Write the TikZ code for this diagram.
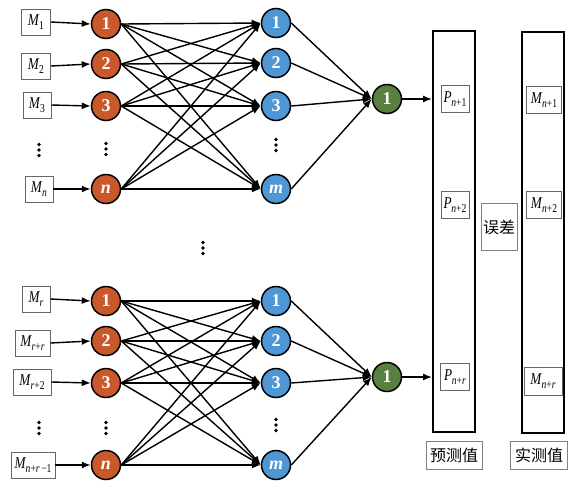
\documentclass[tikz,border=0pt]{standalone}
\usepackage{fontspec}
\usepackage{graphicx}
\setmainfont{Liberation Serif}
\newfontfamily\cjk{Noto Sans CJK SC}
\usetikzlibrary{arrows.meta}
\definecolor{org}{RGB}{201,88,42}
\definecolor{blu}{RGB}{78,150,212}
\definecolor{grn}{RGB}{88,128,62}
\newcommand\vsub[2]{\scalebox{0.8}[1]{\textit{#1}\kern-0.5pt\raisebox{-3.6pt}{\fontsize{12}{12}\selectfont #2}}}
\begin{document}
\begin{tikzpicture}[x=1pt,y=-1pt,
 inbox/.style={draw=black!60,line width=0.9pt,fill=white,minimum height=26pt,inner sep=1pt,font=\fontsize{16.5}{16.5}\selectfont},
 neu/.style={circle,draw=black,line width=1.5pt,minimum size=29pt,inner sep=0pt,text=white,font=\fontsize{18}{18}\selectfont\bfseries},
 orn/.style={neu,fill=org},
 bln/.style={neu,fill=blu},
 gnn/.style={neu,fill=grn},
 arr/.style={-{Latex[length=9pt,width=7pt]},line width=1.4pt},
 bigbox/.style={draw=black,line width=2pt,minimum width=42pt,minimum height=401pt,inner sep=0pt},
 lab/.style={draw=black!50,line width=0.9pt,fill=white,inner sep=2pt,font=\cjk\fontsize{16}{16}\selectfont}]
\useasboundingbox (0,0) rectangle (578,496);
\fill[white] (0,0) rectangle (578,496);
% ---------- top group ----------
\node[inbox,minimum width=29pt] (a1) at (36,22) {\vsub{M}{1}};
\node[inbox,minimum width=29pt] (a2) at (36,66) {\vsub{M}{2}};
\node[inbox,minimum width=28pt] (a3) at (37,105) {\vsub{M}{3}};
\node[inbox,minimum width=28pt] (an) at (39,189) {\vsub{M}{\textit{n}}};
\node[orn] (o1) at (106,24) {1};
\node[orn] (o2) at (106,64) {2};
\node[orn] (o3) at (106,106) {3};
\node[orn] (on) at (106,189) {\itshape n};
\node[bln] (u1) at (276,23) {1};
\node[bln] (u2) at (276,63) {2};
\node[bln] (u3) at (276,106) {3};
\node[bln] (um) at (276,189) {\itshape m};
\node[gnn] (g1) at (387,99) {1};
% ---------- bottom group ----------
\node[inbox,minimum width=28pt] (b1) at (36,299) {\vsub{M}{\textit{r}}};
\node[inbox,minimum width=35pt] (b2) at (32.5,343) {\vsub{M}{\textit{r}+\textit{r}}};
\node[inbox,minimum width=38pt] (b3) at (32,382) {\vsub{M}{\textit{r}+2}};
\node[inbox,minimum width=44pt] (bn) at (33,465) {\vsub{M}{\textit{n}+\textit{r}\,−1}};
\node[orn] (p1) at (106,301) {1};
\node[orn] (p2) at (106,341) {2};
\node[orn] (p3) at (106,383) {3};
\node[orn] (pn) at (106,465) {\itshape n};
\node[bln] (v1) at (276,301) {1};
\node[bln] (v2) at (276,341) {2};
\node[bln] (v3) at (276,383) {3};
\node[bln] (vm) at (276,465) {\itshape m};
\node[gnn] (g2) at (387,377) {1};
% ---------- dots ----------
\foreach \x/\y in {39/150,106/149,276/145,39/428,106/428,276/425,203/248}
  \foreach \d in {-5.5,0,5.5} \fill (\x,\y+\d) circle (1.8);
% ---------- right side ----------
\node[bigbox] (pred) at (454,231.5) {};
\node[bigbox] (meas) at (543,232) {};
\node[inbox,minimum width=28pt,minimum height=27pt] (q1) at (455,99) {\vsub{P}{\textit{n}+1}};
\node[inbox,minimum width=28pt,minimum height=27pt] (q2) at (455,205) {\vsub{P}{\textit{n}+2}};
\node[inbox,minimum width=29pt,minimum height=27pt] (qr) at (455,377) {\vsub{P}{\textit{n}+\textit{r}}};
\node[inbox,minimum width=35pt,minimum height=27pt] (r1) at (544,100) {\vsub{M}{\textit{n}+1}};
\node[inbox,minimum width=35pt,minimum height=27pt] (r2) at (544,205) {\vsub{M}{\textit{n}+2}};
\node[inbox,minimum width=38pt,minimum height=28pt] (rr) at (543,381) {\vsub{M}{\textit{n}+\textit{r}}};
\node[lab,minimum width=36pt,minimum height=47pt] (err) at (499,227) {误差};
\node[lab,minimum width=56pt,minimum height=28pt] (lp) at (454,455) {预测值};
\node[lab,minimum width=57pt,minimum height=28pt] (lm) at (539,455) {实测值};
% ---------- connectors ----------
\foreach \s/\t in {a1/o1,a2/o2,a3/o3,an/on,b1/p1,b2/p2,b3/p3,bn/pn}
  \draw[arr] (\s.east) -- (\t.west);
\foreach \s in {o1,o2,o3,on} \foreach \t in {u1,u2,u3,um} \draw[arr] (\s.east) -- (\t.west);
\foreach \s in {p1,p2,p3,pn} \foreach \t in {v1,v2,v3,vm} \draw[arr] (\s.east) -- (\t.west);
\foreach \s in {u1,u2,u3,um} \draw[arr] (\s.east) -- (g1.west);
\foreach \s in {v1,v2,v3,vm} \draw[arr] (\s.east) -- (g2.west);
\draw[arr] (g1.east) -- (g1.east -| pred.west);
\draw[arr] (g2.east) -- (g2.east -| pred.west);
\end{tikzpicture}
\end{document}
